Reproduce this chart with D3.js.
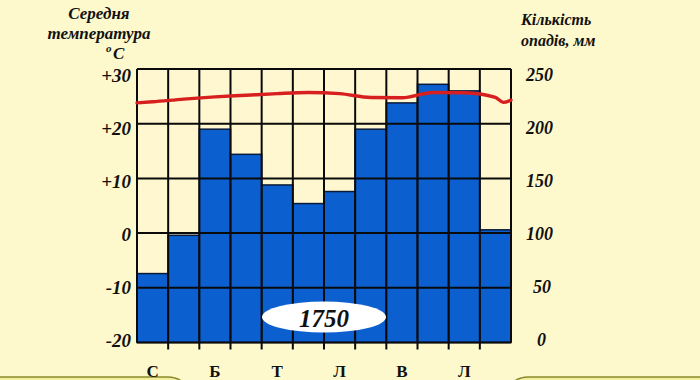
<!DOCTYPE html>
<html>
<head>
<meta charset="utf-8">
<script src="https://cdn.jsdelivr.net/npm/d3@7"></script>
<style>
  body { margin: 0; background: #fef9cc; }
  svg { display: block; }
  text { font-family: "Liberation Serif", "Times New Roman", serif; font-weight: bold; fill: #111; }
</style>
</head>
<body>
<div id="chart"></div>
<script>
// Monthly precipitation, mm (12 columns)
const months = d3.range(12);
const precip = [63, 98, 195, 172, 144, 127, 138, 195, 219, 236, 230, 103];

// Temperature curve, read at positions along the month axis (0..12)
const tempPos = [0, 0.5, 1.5, 2.5, 3.5, 4.5, 5.5, 6.5, 7.5, 8.5, 9.5, 10.5, 11.5, 11.75, 12];
const temps   = [23.8, 24.0, 24.5, 24.9, 25.2, 25.5, 25.7, 25.5, 24.8, 24.75, 25.7, 25.65, 24.8, 23.9, 24.3];

const monthLabels = ["С", "", "Б", "", "Т", "", "Л", "", "В", "", "Л", ""];
const tempTicks = [30, 20, 10, 0, -10, -20];
const tempTickLabels = ["+30", "+20", "+10", "0", "-10", "-20"];
const precipTicks = [250, 200, 150, 100, 50, 0];
const totalPrecip = "1750";

const W = 700, H = 380;
const plotLeft = 137, plotRight = 511, plotTop = 69, plotBottom = 342.5;

const svg = d3.select("#chart").append("svg")
    .attr("width", W)
    .attr("height", H);

svg.append("rect")
    .attr("width", W)
    .attr("height", H)
    .attr("fill", "#fef9cc");

// Scales
const x = d3.scaleBand()
    .domain(months)
    .range([plotLeft, plotRight])
    .padding(0);

const xPos = d3.scaleLinear()
    .domain([0, 12])
    .range([plotLeft, plotRight]);

const yTemp = d3.scaleLinear()
    .domain([-20, 30])
    .range([plotBottom, plotTop]);

const yPrecip = d3.scaleLinear()
    .domain([0, 250])
    .range([plotBottom, plotTop]);

// labels sit slightly inside the grid range
const yLabel = d3.scaleLinear()
    .domain([-20, 30])
    .range([340, 75]);

// Plot background
svg.append("rect")
    .attr("x", plotLeft)
    .attr("y", plotTop)
    .attr("width", plotRight - plotLeft)
    .attr("height", plotBottom - plotTop)
    .attr("fill", "#fef7cf");

// Bars for precipitation
svg.selectAll(".bar")
    .data(months)
    .enter()
    .append("rect")
    .attr("class", "bar")
    .attr("x", d => x(d))
    .attr("y", d => yPrecip(precip[d]))
    .attr("width", x.bandwidth())
    .attr("height", d => plotBottom - yPrecip(precip[d]))
    .attr("fill", "#0b5fcf")
    .attr("stroke", "#0a1a3a")
    .attr("stroke-width", 1.5);

// Grid
const grid = svg.append("g")
    .attr("stroke", "#0a0a0a")
    .attr("stroke-width", 2);

grid.selectAll(".hline")
    .data(tempTicks)
    .enter()
    .append("line")
    .attr("x1", plotLeft)
    .attr("x2", plotRight)
    .attr("y1", d => yTemp(d))
    .attr("y2", d => yTemp(d));

grid.selectAll(".vline")
    .data(d3.range(13))
    .enter()
    .append("line")
    .attr("x1", d => xPos(d))
    .attr("x2", d => xPos(d))
    .attr("y1", plotTop)
    .attr("y2", d => (d === 0 || d === 12) ? plotBottom : plotBottom + 7);

// Temperature line
const line = d3.line()
    .x((d, i) => xPos(tempPos[i]))
    .y(d => yTemp(d))
    .curve(d3.curveMonotoneX);

svg.append("path")
    .datum(temps)
    .attr("d", line)
    .attr("fill", "none")
    .attr("stroke", "#d81f1f")
    .attr("stroke-width", 3.4)
    .attr("stroke-linecap", "round");

// Left axis labels
svg.selectAll(".tl")
    .data(tempTicks)
    .enter()
    .append("text")
    .attr("x", 131)
    .attr("y", d => yLabel(d))
    .attr("dy", "0.35em")
    .attr("text-anchor", "end")
    .style("font-style", "italic")
    .style("font-size", "19px")
    .text((d, i) => tempTickLabels[i]);

// Right axis labels
svg.selectAll(".pl")
    .data(precipTicks)
    .enter()
    .append("text")
    .attr("x", d => d === 0 ? 537 : (d === 50 ? 533 : 526))
    .attr("y", d => yLabel(yTemp.invert(yPrecip(d))))
    .attr("dy", "0.35em")
    .attr("text-anchor", "start")
    .style("font-style", "italic")
    .style("font-size", "18px")
    .text(d => d);

// Bottom decorative panels (drawn under the month labels)
svg.append("rect")
    .attr("x", -20)
    .attr("y", 377)
    .attr("width", 210)
    .attr("height", 40)
    .attr("rx", 22)
    .attr("fill", "#f3ef9f")
    .attr("stroke", "#8b8a2a")
    .attr("stroke-width", 1.5);

svg.append("rect")
    .attr("x", 506)
    .attr("y", 377)
    .attr("width", 214)
    .attr("height", 40)
    .attr("rx", 22)
    .attr("fill", "#f3ef9f")
    .attr("stroke", "#8b8a2a")
    .attr("stroke-width", 1.5);

// Month labels
svg.selectAll(".ml")
    .data(months)
    .enter()
    .append("text")
    .attr("x", d => x(d) + x.bandwidth() / 2)
    .attr("y", 377)
    .attr("text-anchor", "middle")
    .style("font-size", "17px")
    .text(d => monthLabels[d]);

// Axis titles
const lt = svg.append("text")
    .attr("text-anchor", "middle")
    .style("font-style", "italic")
    .style("font-size", "17px");
lt.append("tspan").attr("x", 99).attr("y", 19).text("Середня");
lt.append("tspan").attr("x", 99).attr("y", 39).text("температура");

const deg = svg.append("text")
    .attr("x", 106)
    .attr("y", 59)
    .style("font-style", "italic")
    .style("font-size", "17px");
deg.append("tspan")
    .attr("dy", "-0.6em")
    .style("font-size", "11px")
    .text("o");
deg.append("tspan")
    .attr("x", 113)
    .attr("y", 59)
    .text("C");

const rt = svg.append("text")
    .attr("text-anchor", "start")
    .style("font-style", "italic")
    .style("font-size", "16px");
rt.append("tspan").attr("x", 521).attr("y", 25).text("Кількість");
rt.append("tspan").attr("x", 521).attr("y", 46).text("опадів, мм");

// Annual total
svg.append("ellipse")
    .attr("cx", 324)
    .attr("cy", 317)
    .attr("rx", 62)
    .attr("ry", 15.5)
    .attr("fill", "#ffffff");

svg.append("text")
    .attr("x", 324)
    .attr("y", 318)
    .attr("dy", "0.35em")
    .attr("text-anchor", "middle")
    .style("font-style", "italic")
    .style("font-size", "25px")
    .text(totalPrecip);
</script>
</body>
</html>
